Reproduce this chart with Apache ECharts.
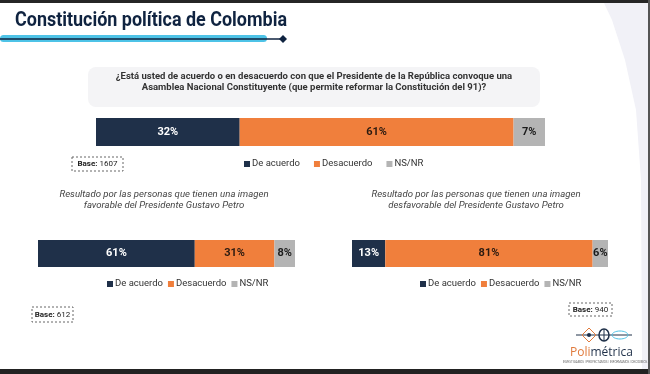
<!DOCTYPE html>
<html><head><meta charset="utf-8">
<script src="https://cdn.jsdelivr.net/npm/echarts@6/dist/echarts.min.js"></script>
<style>html,body{margin:0;padding:0;background:#fff}#c{width:650px;height:374px}</style>
</head><body><div id="c"></div>
<script>
const seriesNames = ['De acuerdo', 'Desacuerdo', 'NS/NR'];
const general = [32, 61, 7];
const favorable = [61, 31, 8];
const desfavorable = [13, 81, 6];
const bases = ['1607', '612', '940'];
const titleText = 'Constitución política de Colombia';
const questionLines = ['¿Está usted de acuerdo o en desacuerdo con que el Presidente de la República convoque una', 'Asamblea Nacional Constituyente (que permite reformar la Constitución del 91)?'];
const favText = ['Resultado por las personas que tienen una imagen', 'favorable del Presidente Gustavo Petro'];
const desText = ['Resultado por las personas que tienen una imagen', 'desfavorable del Presidente Gustavo Petro'];

const colors = ['#1f3049', '#f07f3c', '#b4b4b4'];
const labelColors = ['#ffffff', '#2b1a10', '#1a1a1a'];
const FONT = 'Roboto, "Noto Sans", sans-serif';

// measure the title to condense it to the reference width
const TITLE_FONT = 'bold 21px Roboto';
const mctx = document.createElement('canvas').getContext('2d');
mctx.font = TITLE_FONT;
const titleW = mctx.measureText(titleText).width;
const titleScale = 272 / titleW;

const grids = [
  {left: 96, width: 449, top: 118, height: 28},
  {left: 38, width: 257, top: 240, height: 27},
  {left: 352, width: 256, top: 240, height: 27}
];
const dataSets = [general, favorable, desfavorable];

const series = [];
dataSets.forEach((ds, gi) => {
  seriesNames.forEach((n, si) => {
    series.push({
      type: 'bar', name: n, stack: 'g' + gi, xAxisIndex: gi, yAxisIndex: gi,
      barWidth: grids[gi].height, data: [ds[si]],
      itemStyle: {color: colors[si]},
      label: {show: true, position: 'inside', formatter: '{c}%', color: labelColors[si],
        fontFamily: FONT, fontWeight: 'bold', fontSize: 11},
      emphasis: {disabled: true}, animation: false
    });
  });
});

const legendBase = {
  data: seriesNames, itemWidth: 6, itemHeight: 6, icon: 'rect',
  textStyle: {fontFamily: FONT, fontSize: 9.5, color: '#333', padding: [0, 0, 0, -3]},
  selectedMode: false, padding: 0
};
const legends = [
  Object.assign({}, legendBase, {left: 244, top: 159, itemGap: 14}),
  Object.assign({}, legendBase, {left: 107, top: 279, itemGap: 5}),
  Object.assign({}, legendBase, {left: 420, top: 279, itemGap: 5})
];

function baseBox(x, y, w, h, val) {
  return [
    {type: 'rect', shape: {x: x, y: y, width: w, height: h}, style: {fill: '#fff', stroke: '#666', lineWidth: 1, lineDash: [2, 2]}},
    {type: 'text', x: x + w / 2, y: y + h / 2, style: {text: '{b|Base:} ' + val, rich: {b: {fontWeight: 'bold', fontSize: 8, fontFamily: FONT, fill: '#222'}},
      fontSize: 8, fontFamily: FONT, fill: '#222', align: 'center', verticalAlign: 'middle'}}
  ];
}

const graphic = [
  {type: 'polygon', shape: {points: [[604, 3], [648, 3], [648, 369], [642, 369], [641, 180], [636, 110], [625, 60], [612, 20]]}, style: {fill: '#f1f1f7'}},
  {type: 'rect', shape: {x: 0, y: 0, width: 650, height: 3}, style: {fill: '#262626'}},
  {type: 'rect', shape: {x: 0, y: 369, width: 650, height: 5}, style: {fill: '#222'}},
  {type: 'rect', shape: {x: 648, y: 0, width: 2, height: 374}, style: {fill: '#555'}},
  {type: 'text', x: 15, y: 21, scaleX: titleScale, style: {text: titleText, font: TITLE_FONT, fill: '#0f2340', verticalAlign: 'middle'}},
  {type: 'rect', shape: {x: 0, y: 35, width: 267, height: 7, r: 3.5}, style: {fill: '#4ec3e7'}},
  {type: 'line', shape: {x1: 0, y1: 39, x2: 283, y2: 39}, style: {stroke: '#0f2340', lineWidth: 1.5}},
  {type: 'polygon', shape: {points: [[283, 35], [287, 39], [283, 43], [279, 39]]}, style: {fill: '#0f2340'}},
  {type: 'rect', shape: {x: 88, y: 67, width: 452, height: 40, r: 8}, style: {fill: '#f4f4f6'}},
  {type: 'text', x: 314, y: 82, style: {text: questionLines.join('\n'), lineHeight: 11, align: 'center', verticalAlign: 'middle', fontFamily: FONT, fontWeight: 'bold', fontSize: 9.5, fill: '#333'}},
  {type: 'text', x: 164, y: 200.5, style: {text: favText.join('\n'), lineHeight: 11, align: 'center', verticalAlign: 'middle', fontFamily: FONT, fontStyle: 'italic', fontSize: 9.6, fill: '#444'}},
  {type: 'text', x: 476, y: 200.5, style: {text: desText.join('\n'), lineHeight: 11, align: 'center', verticalAlign: 'middle', fontFamily: FONT, fontStyle: 'italic', fontSize: 9.6, fill: '#444'}},
  ...baseBox(72, 157, 51, 14, bases[0]),
  ...baseBox(32, 307, 41, 15, bases[1]),
  ...baseBox(569, 303, 43, 13, bases[2]),
  // logo
  {type: 'line', shape: {x1: 576, y1: 335, x2: 632, y2: 335}, style: {stroke: '#1f3049', lineWidth: 1}},
  {type: 'polygon', shape: {points: [[582, 335], [589, 328], [596, 335], [589, 342]]}, style: {fill: 'none', stroke: '#e07a3c', lineWidth: 1}},
  {type: 'circle', shape: {cx: 589, cy: 335, r: 2}, style: {fill: '#1f3049'}},
  {type: 'ellipse', shape: {cx: 604, cy: 335, rx: 5, ry: 6}, style: {fill: 'none', stroke: '#1f3049', lineWidth: 1.5}},
  {type: 'line', shape: {x1: 604, y1: 329, x2: 604, y2: 341}, style: {stroke: '#1f3049', lineWidth: 1}},
  {type: 'ellipse', shape: {cx: 620, cy: 335, rx: 8, ry: 4}, style: {fill: 'none', stroke: '#4ec3e7', lineWidth: 1}},
  {type: 'text', x: 570, y: 353, style: {text: '{o|Poli}{n|métrica}', verticalAlign: 'middle', rich: {
    o: {fontFamily: '"Open Sans", sans-serif', fontSize: 12, fill: '#e07a3c'},
    n: {fontFamily: '"Open Sans", sans-serif', fontSize: 12, fill: '#1f3049'}}}},
  {type: 'text', x: 605, y: 362, style: {text: 'INVESTIGAMOS | PROYECTAMOS | INFORMAMOS | DECIDIMOS', align: 'center', verticalAlign: 'middle', fontFamily: FONT, fontSize: 3, fill: '#666'}}
];

const option = {
  backgroundColor: '#ffffff',
  animation: false,
  grid: grids,
  xAxis: grids.map((g, i) => ({type: 'value', gridIndex: i, min: 0, max: 100, show: false})),
  yAxis: grids.map((g, i) => ({type: 'category', gridIndex: i, data: ['total'], show: false})),
  legend: legends,
  series: series,
  graphic: graphic
};
const chart = echarts.init(document.getElementById('c'), null, {renderer: 'canvas'});
chart.setOption(option);
</script></body></html>
